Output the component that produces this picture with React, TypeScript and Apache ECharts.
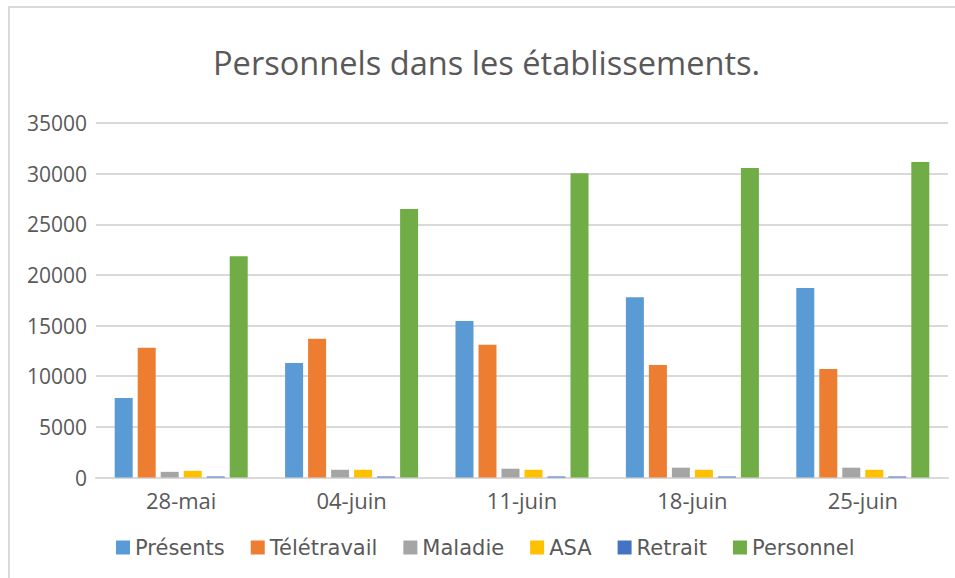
import React, { useEffect, useRef } from "react";
import * as echarts from "echarts";

const categories = ["28-mai", "04-juin", "11-juin", "18-juin", "25-juin"];
const presents = [7850, 11300, 15450, 17800, 18700];
const teletravail = [12800, 13700, 13100, 11100, 10700];
const maladie = [560, 760, 870, 970, 970];
const asa = [660, 760, 760, 760, 760];
const retrait = [100, 100, 100, 100, 100];
const personnel = [21850, 26500, 30050, 30550, 31150];

const seriesNames = ["Présents", "Télétravail", "Maladie", "ASA", "Retrait", "Personnel"];
const seriesData = [presents, teletravail, maladie, asa, retrait, personnel];
const colors = ["#5B9BD5", "#ED7D31", "#A5A5A5", "#FFC000", "#4472C4", "#70AD47"];

export default function App() {
  const ref = useRef<HTMLDivElement>(null);
  useEffect(() => {
    if (!ref.current) return;
    const chart = echarts.init(ref.current, undefined, { renderer: "svg" });
    chart.setOption({
      animation: false,
      color: colors,
      title: {
        text: "Personnels dans les établissements.",
        left: 213,
        top: 46,
        padding: 0,
        textStyle: {
          fontFamily: "Open Sans",
          fontSize: 32.6,
          fontWeight: "normal",
          color: "#595959",
        },
      },
      legend: {
        data: seriesNames,
        left: 116,
        top: 537,
        padding: 0,
        itemWidth: 14,
        itemHeight: 14,
        itemGap: 26,
        icon: "rect",
        textStyle: {
          fontFamily: "DejaVu Sans",
          fontSize: 21,
          color: "#595959",
        },
      },
      grid: { left: 96, right: 7, top: 123, bottom: 100.5, containLabel: false },
      xAxis: {
        type: "category",
        data: categories,
        axisLine: { lineStyle: { color: "#d9d9d9", width: 2 } },
        axisTick: { show: false },
        axisLabel: {
          fontFamily: "Open Sans",
          fontSize: 22,
          color: "#595959",
          margin: 11,
        },
      },
      yAxis: {
        type: "value",
        min: 0,
        max: 35000,
        interval: 5000,
        axisLine: { show: false },
        axisTick: { show: false },
        splitLine: { lineStyle: { color: "#d9d9d9", width: 2 } },
        axisLabel: {
          fontFamily: "Open Sans",
          fontSize: 21,
          color: "#595959",
          margin: 9,
          formatter: (v: number) => String(v),
        },
      },
      series: seriesNames.map((name, i) => ({
        name,
        type: "bar",
        data: seriesData[i],
        barWidth: 18,
        barGap: "27.8%",
        itemStyle: { color: colors[i] },
      })),
    });
    return () => chart.dispose();
  }, []);
  return (
    <div
      style={{
        position: "fixed",
        left: 0,
        top: 0,
        width: 955,
        height: 578,
        background: "#fff",
        overflow: "hidden",
      }}
    >
      <div
        style={{
          position: "absolute",
          left: 8,
          top: 6,
          width: 980,
          height: 600,
          borderTop: "2px solid #d9d9d9",
          borderLeft: "2px solid #d9d9d9",
          boxSizing: "border-box",
        }}
      />
      <div
        ref={ref}
        style={{ position: "absolute", left: 0, top: 0, width: 955, height: 578 }}
      />
    </div>
  );
}
